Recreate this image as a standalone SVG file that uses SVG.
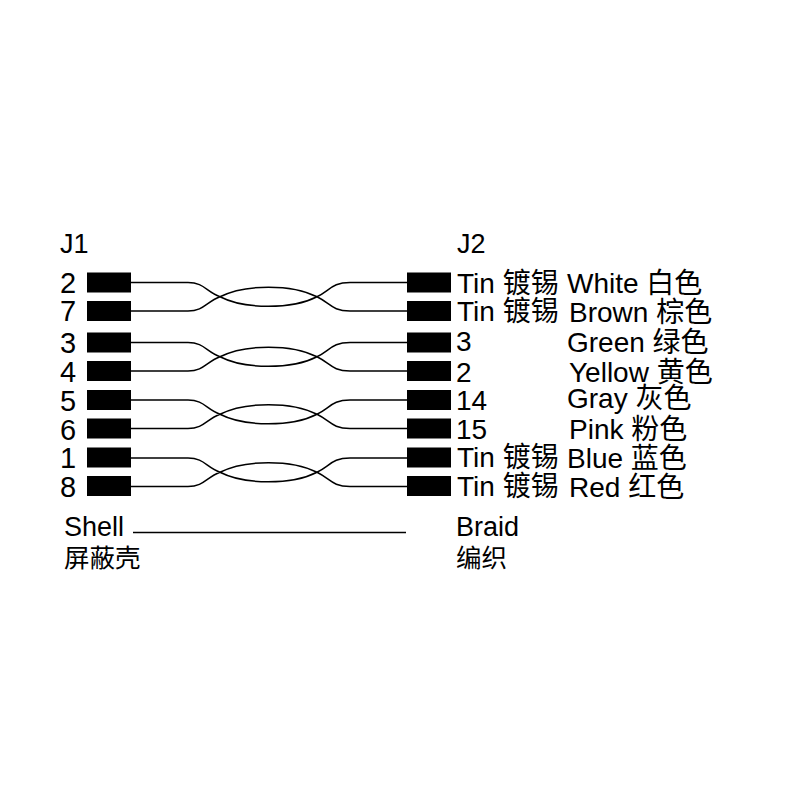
<svg xmlns="http://www.w3.org/2000/svg" width="800" height="800" viewBox="0 0 800 800">
<style>
text{font-family:"Liberation Sans","Noto Sans CJK SC",sans-serif;font-size:28px;fill:#000}
.n{font-size:29px}
.s{font-size:27px}
.k{font-size:25.500px}
.b{fill:#000}
.w{fill:none;stroke:#000;stroke-width:1.5}
</style>
<defs>
<rect id="box" class="b" width="44" height="20"/>
<path id="pair" class="w" d="M131 0H188C204 0 206 9 220 14.250C245 27 292 27 317 14.250C330 8 332 0 350 0H407M131 28.500H188C204 28.500 206 19.500 220 14.250C245 1.500 292 1.500 317 14.250C330 20.500 332 28.500 350 28.500H407"/>
</defs>
<rect width="800" height="800" fill="#fff"/>
<g id="connectors">
<use href="#pair" y="282.500"/>
<use href="#pair" y="342.500"/>
<use href="#pair" y="400"/>
<use href="#pair" y="458"/>
<path class="w" d="M133 532.500H406"/>
</g>
<g id="j1"><text class="s" x="60" y="253">J1</text>
<g id="j1-2"><use href="#box" x="87" y="272.500"/><text class="n" x="60" y="293">2</text></g>
<g id="j1-7"><use href="#box" x="87" y="301"/><text class="n" x="60" y="321">7</text></g>
<g id="j1-3"><use href="#box" x="87" y="332.500"/><text class="n" x="60" y="353">3</text></g>
<g id="j1-4"><use href="#box" x="87" y="361"/><text class="n" x="60" y="382">4</text></g>
<g id="j1-5"><use href="#box" x="87" y="390"/><text class="n" x="60" y="411">5</text></g>
<g id="j1-6"><use href="#box" x="87" y="418.500"/><text class="n" x="60" y="440">6</text></g>
<g id="j1-1"><use href="#box" x="87" y="447.500"/><text class="n" x="60" y="468">1</text></g>
<g id="j1-8"><use href="#box" x="87" y="476"/><text class="n" x="60" y="497">8</text></g>
</g>
<g id="j2"><text class="s" x="457" y="253">J2</text>
<g id="j2-a"><use href="#box" x="407" y="272.500"/><text x="457" y="293">Tin 镀锡</text></g>
<g id="j2-b"><use href="#box" x="407" y="301"/><text x="457" y="321">Tin 镀锡</text></g>
<g id="j2-c"><use href="#box" x="407" y="332.500"/><text x="456" y="351">3</text></g>
<g id="j2-d"><use href="#box" x="407" y="361"/><text x="456" y="382">2</text></g>
<g id="j2-e"><use href="#box" x="407" y="390"/><text x="456" y="410">14</text></g>
<g id="j2-f"><use href="#box" x="407" y="418.500"/><text x="456" y="439">15</text></g>
<g id="j2-g"><use href="#box" x="407" y="447.500"/><text x="457" y="467">Tin 镀锡</text></g>
<g id="j2-h"><use href="#box" x="407" y="476"/><text x="457" y="496">Tin 镀锡</text></g>
</g>
<g id="colors">
<text x="567" y="293">White 白色</text>
<text x="569" y="322">Brown 棕色</text>
<text x="567" y="352">Green 绿色</text>
<text x="569" y="382">Yellow 黄色</text>
<text x="567" y="408">Gray 灰色</text>
<text x="569" y="439">Pink 粉色</text>
<text x="567" y="468">Blue 蓝色</text>
<text x="569" y="497">Red 红色</text>
</g>
<g id="shell"><text class="s" x="64" y="536">Shell</text><text class="k" x="64" y="567">屏蔽壳</text></g>
<g id="braid"><text class="s" x="456" y="536">Braid</text><text class="k" x="456" y="567">编织</text></g>
</svg>
